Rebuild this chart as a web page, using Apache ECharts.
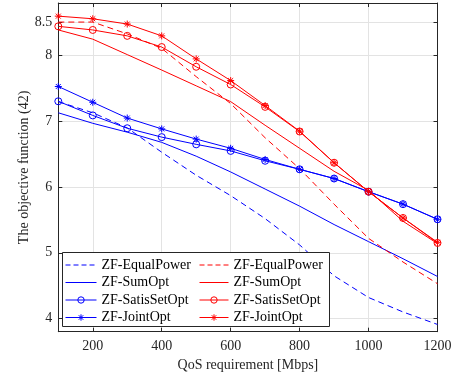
<!DOCTYPE html>
<html><head><meta charset="utf-8">
<script src="https://cdn.jsdelivr.net/npm/echarts@6/dist/echarts.min.js"></script>
<style>html,body{margin:0;padding:0;background:#fff}#c{width:459px;height:380px}</style>
</head><body><div id="c"></div>
<script>
const qos = [100, 200, 300, 400, 500, 600, 700, 800, 900, 1000, 1100, 1200];
const xTicks = [200, 400, 600, 800, 1000, 1200];
const yTicks = [4, 5, 6, 7, 8, 8.5];
const blueEqualPower   = [7.30, 7.13, 6.90, 6.53, 6.18, 5.87, 5.52, 5.12, 4.65, 4.32, 4.10, 3.91];
const blueSumOpt       = [7.13, 6.97, 6.835, 6.68, 6.47, 6.23, 5.97, 5.71, 5.43, 5.17, 4.91, 4.64];
const blueSatisSetOpt  = [7.305, 7.09, 6.895, 6.76, 6.65, 6.55, 6.40, 6.27, 6.13, 5.93, 5.74, 5.51];
const blueJointOpt     = [7.53, 7.29, 7.05, 6.885, 6.73, 6.59, 6.42, 6.27, 6.13, 5.93, 5.74, 5.51];
const redEqualPower    = [8.51, 8.51, 8.33, 8.11, 7.68, 7.27, 6.75, 6.28, 5.74, 5.22, 4.86, 4.53];
const redSumOpt        = [8.39, 8.25, 8.015, 7.78, 7.54, 7.30, 6.94, 6.59, 6.24, 5.95, 5.48, 5.14];
const redSatisSetOpt   = [8.445, 8.39, 8.30, 8.13, 7.83, 7.56, 7.22, 6.845, 6.37, 5.93, 5.53, 5.15];
const redJointOpt      = [8.60, 8.56, 8.48, 8.30, 7.95, 7.62, 7.24, 6.85, 6.37, 5.93, 5.53, 5.16];
const namesBlue = ['ZF-EqualPower', 'ZF-SumOpt', 'ZF-SatisSetOpt', 'ZF-JointOpt'];

const BLUE = '#0000ff', RED = '#ff0000', AX = '#262626', GRID = '#e3e3e3';
const FONT = '"Liberation Serif", "Times New Roman", serif';
const STAR = 'path://M5,0L5,10M0,5L10,5M1.46,1.46L8.54,8.54M1.46,8.54L8.54,1.46';
const DASH = [6, 4];

function pairs(v) { return qos.map((q, i) => [q, v[i]]); }
function mk(name, data, color, kind) {
  const s = {
    name: name, type: 'line', data: pairs(data), xAxisIndex: 0, yAxisIndex: 0,
    lineStyle: { color: color, width: 1, type: kind === 'dash' ? DASH : 'solid' },
    itemStyle: { color: color }, symbol: 'none', animation: false, silent: true, z: 2
  };
  if (kind === 'circle') {
    s.symbol = 'circle'; s.symbolSize = 7; s.showSymbol = true;
    s.itemStyle = { color: 'transparent', borderColor: color, borderWidth: 1 };
  } else if (kind === 'star') {
    s.symbol = STAR; s.symbolSize = 7; s.showSymbol = true; s.symbolKeepAspect = true;
    s.itemStyle = { color: color, borderColor: color, borderWidth: 1 };
  }
  return s;
}
const kinds = ['dash', 'solid', 'circle', 'star'];
const blueData = [blueEqualPower, blueSumOpt, blueSatisSetOpt, blueJointOpt];
const redData = [redEqualPower, redSumOpt, redSatisSetOpt, redJointOpt];
const series = [];
namesBlue.forEach((n, i) => series.push(mk(n, blueData[i], BLUE, kinds[i])));
namesBlue.forEach((n, i) => series.push(mk(n + ' ', redData[i], RED, kinds[i])));

function legendItems(suffix, color) {
  return namesBlue.map((n, i) => {
    const k = kinds[i];
    const it = { name: n + suffix, lineStyle: { color: color, width: 1, type: k === 'dash' ? [5, 3] : 'solid' } };
    if (k === 'circle') it.itemStyle = { color: 'transparent', borderColor: color, borderWidth: 1 };
    else if (k === 'star') it.itemStyle = { color: color, borderColor: color, borderWidth: 1 };
    else it.itemStyle = { color: 'transparent', borderColor: 'transparent', borderWidth: 0 };
    return it;
  });
}
const legendCommon = {
  orient: 'vertical', top: 258, itemHeight: 8, itemGap: 3.5, selectedMode: false, z: 6,
  textStyle: { fontFamily: FONT, fontSize: 14, color: '#000', lineHeight: 14 },
  formatter: n => n.trim(), padding: 0
};

const chart = echarts.init(document.getElementById('c'), null, { renderer: 'canvas' });
const xBase = { type: 'value', min: 100, max: 1200, gridIndex: 0 };
const yBase = { type: 'value', min: 3.8, max: 8.8, gridIndex: 0 };
chart.setOption({
  backgroundColor: '#fff',
  animation: false,
  grid: { left: 58.3, right: 21.5, top: 3, bottom: 48.3, containLabel: false },
  xAxis: [
    Object.assign({}, xBase, {
      position: 'bottom',
      name: 'QoS requirement [Mbps]', nameLocation: 'middle', nameGap: 27, nameMoveOverlap: false,
      nameTextStyle: { fontFamily: FONT, fontSize: 14, color: AX },
      axisLine: { show: true, onZero: false, lineStyle: { color: AX, width: 1 } },
      axisTick: { show: true, inside: true, length: 4, customValues: xTicks, lineStyle: { color: AX } },
      axisLabel: { show: true, customValues: xTicks, margin: 8, fontFamily: FONT, fontSize: 14, color: AX,
                   formatter: v => String(v) },
      splitLine: { show: true, lineStyle: { color: GRID, width: 1 } }
    }),
    Object.assign({}, xBase, {
      position: 'top',
      axisLine: { show: true, onZero: false, lineStyle: { color: AX, width: 1 } },
      axisTick: { show: true, inside: true, length: 4, customValues: xTicks, lineStyle: { color: AX } },
      axisLabel: { show: false },
      splitLine: { show: false }
    })
  ],
  yAxis: [
    Object.assign({}, yBase, {
      position: 'left',
      name: 'The objective function (42)', nameLocation: 'middle', nameGap: 27, nameMoveOverlap: false,
      nameTextStyle: { fontFamily: FONT, fontSize: 14, color: AX },
      axisLine: { show: true, onZero: false, lineStyle: { color: AX, width: 1 } },
      axisTick: { show: true, inside: true, length: 4, customValues: yTicks, lineStyle: { color: AX } },
      axisLabel: { show: true, customValues: yTicks, margin: 6, fontFamily: FONT, fontSize: 14, color: AX,
                   formatter: v => String(v) },
      splitLine: { show: true, lineStyle: { color: GRID, width: 1 } }
    }),
    Object.assign({}, yBase, {
      position: 'right',
      axisLine: { show: true, onZero: false, lineStyle: { color: AX, width: 1 } },
      axisTick: { show: true, inside: true, length: 4, customValues: yTicks, lineStyle: { color: AX } },
      axisLabel: { show: false },
      splitLine: { show: false }
    })
  ],
  legend: [
    Object.assign({}, legendCommon, { left: 65, itemWidth: 31, data: legendItems('', BLUE) }),
    Object.assign({}, legendCommon, { left: 199, itemWidth: 29, data: legendItems(' ', RED) })
  ],
  graphic: [{
    type: 'rect', z: 5, silent: true,
    shape: { x: 62.5, y: 252.5, width: 267, height: 74 },
    style: { fill: '#fff', stroke: AX, lineWidth: 1 }
  }],
  series: series
});
</script>
</body></html>
